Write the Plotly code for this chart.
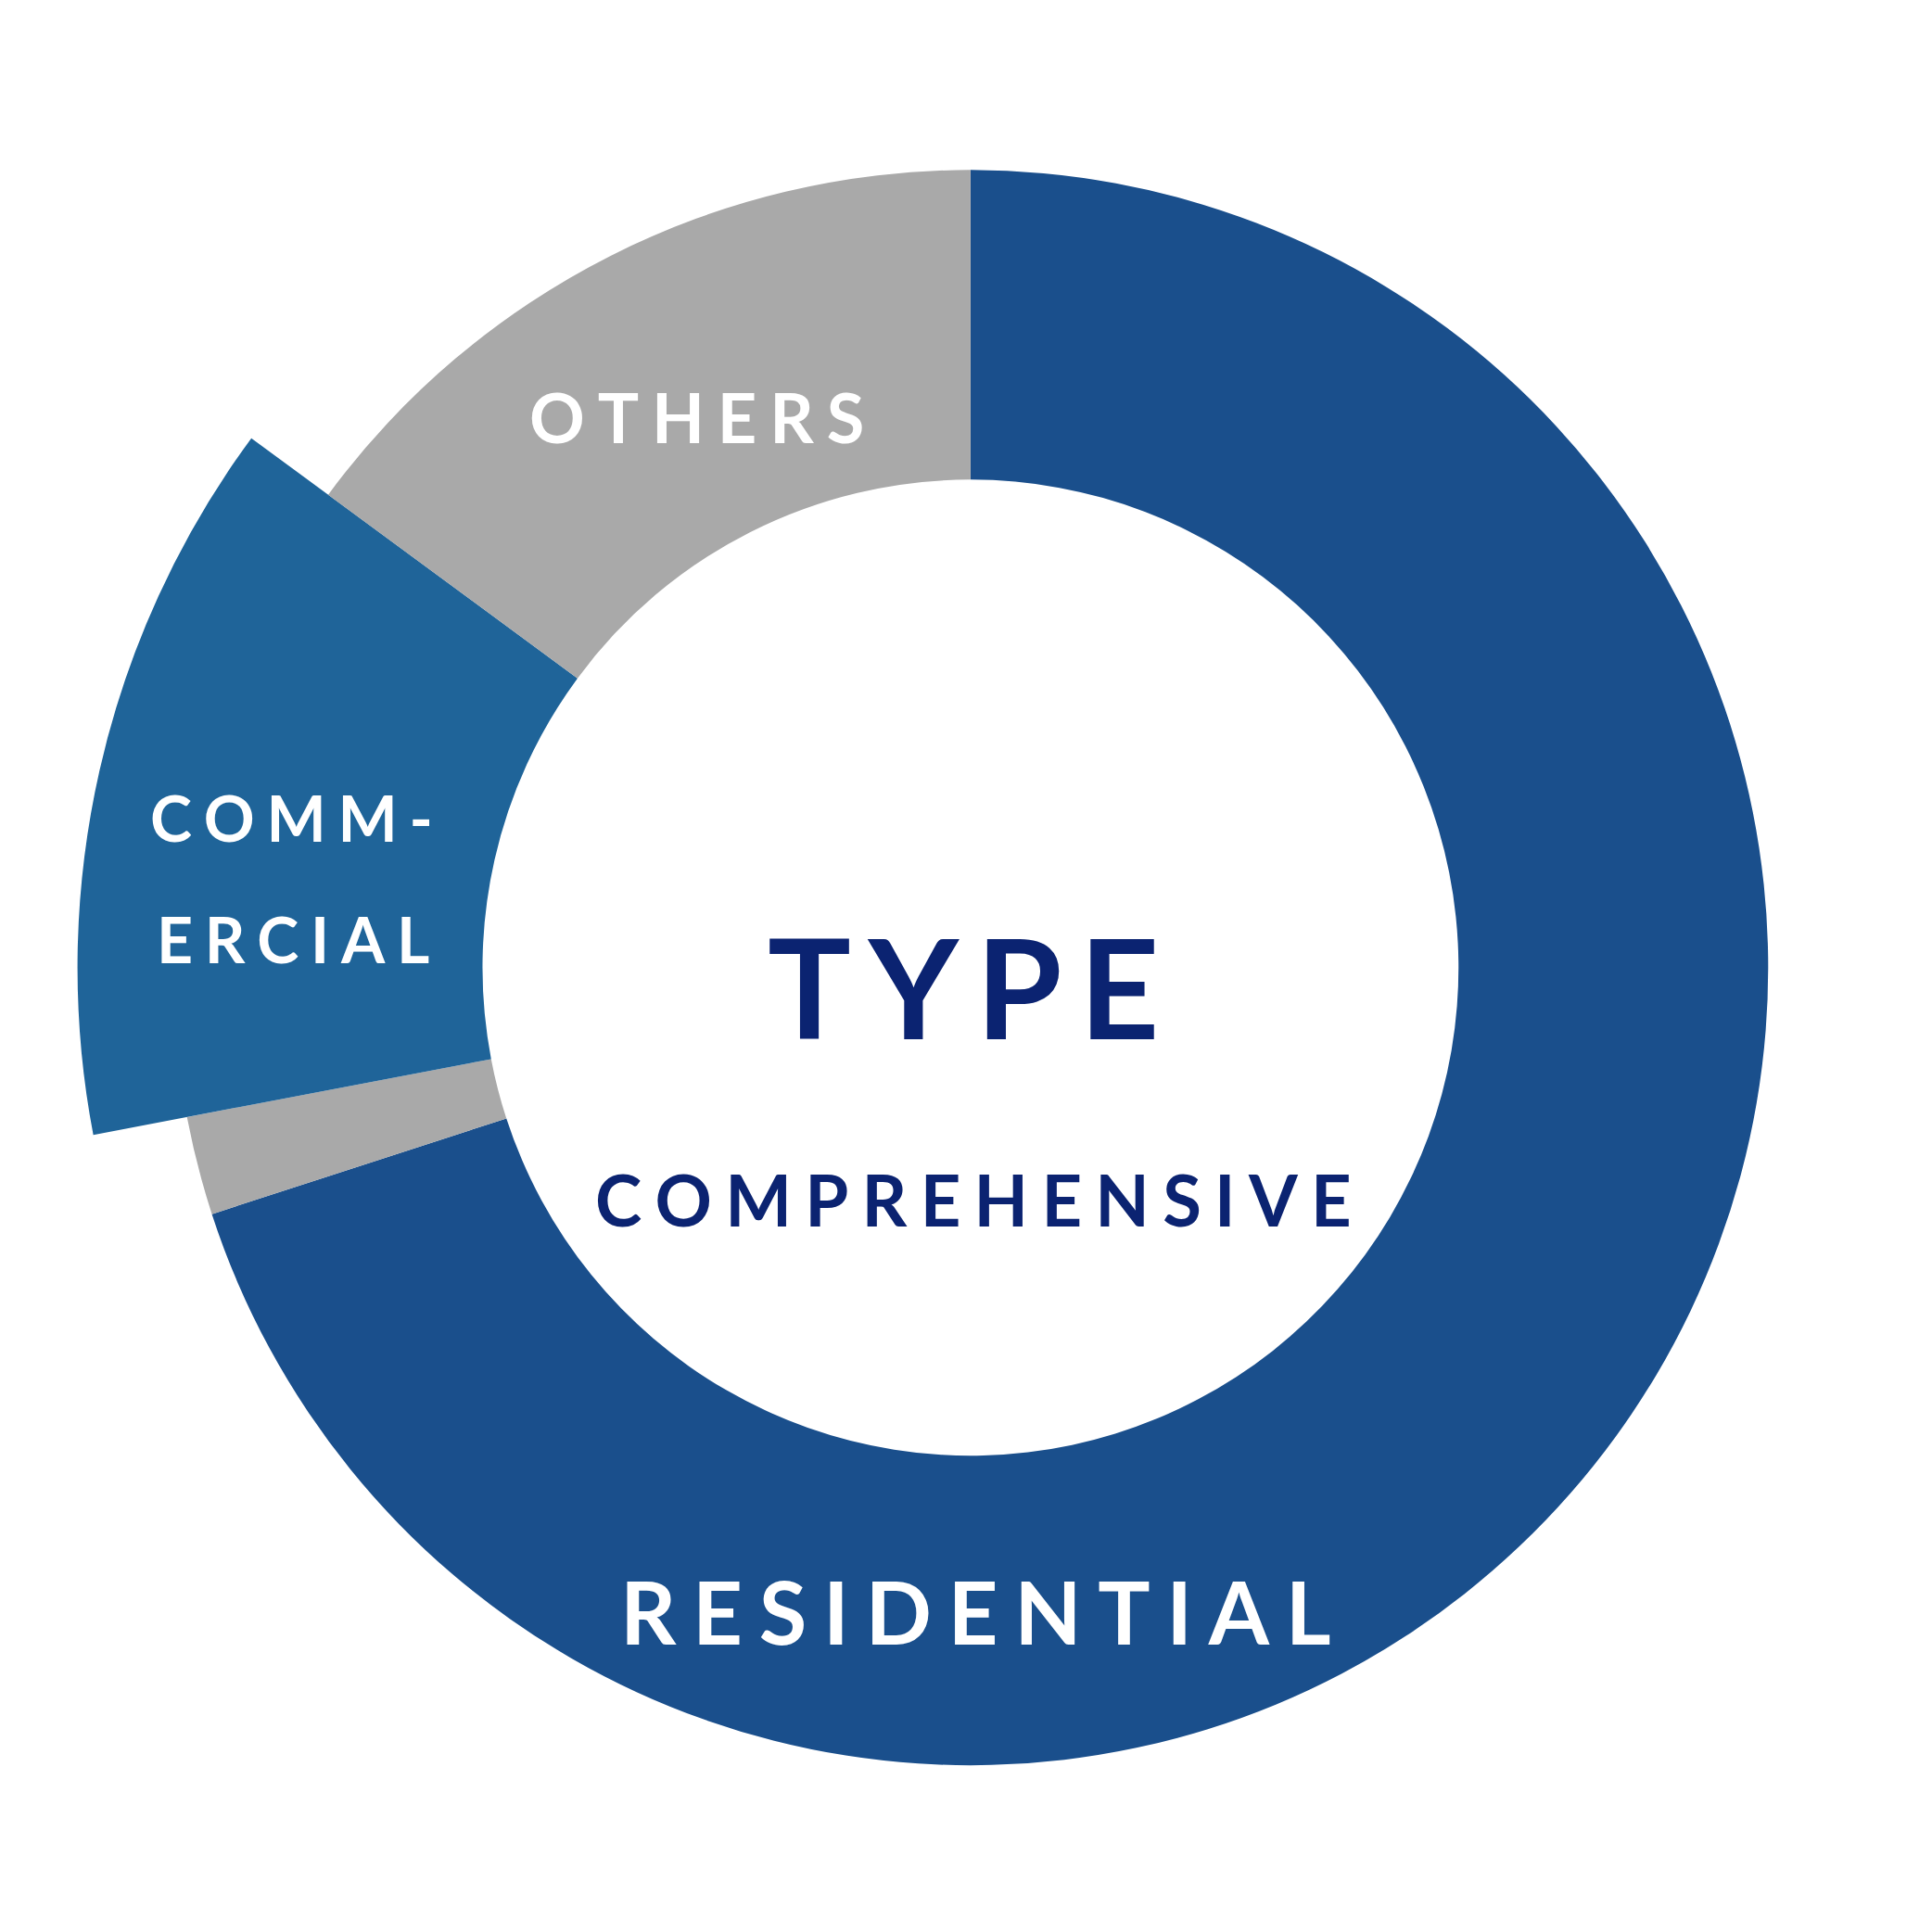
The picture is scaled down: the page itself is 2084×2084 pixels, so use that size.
import numpy as np
import plotly.graph_objects as go

# shares in percent, clockwise from 12 o'clock
categories = ["Residential", "Others (small)", "Commercial", "Others"]
shares = [70, 2, 13.1, 14.9]
colors = ["#1a4f8c", "#a9a9a9", "#1f6499", "#a9a9a9"]
outer = [644, 644, 721, 644]

inner = 394
ends = np.cumsum(shares) * 3.6
starts = ends - np.array(shares) * 3.6
theta = (starts + ends) / 2
width = ends - starts

fig = go.Figure()
fig.add_trace(go.Barpolar(
    theta=theta, width=width, base=[inner] * 4,
    r=[o - inner for o in outer],
    marker=dict(color=colors, line=dict(width=0)),
    hoverinfo="skip",
))

def spaced(s, sep="\u2009"):
    return sep.join(s)

navy = "#0b2371"
font = "Lato"
ann = [
    ("OTHERS", 0.357, 0.788, 74, "white", "\u2009\u200a"),
    ("COMM-", 0.147, 0.581, 68, "white", "\u2009\u200a"),
    ("ERCIAL", 0.148, 0.518, 68, "white", "\u2009\u200a"),
    ("RESIDENTIAL", 0.501, 0.170, 94, "white", "\u2009\u200a"),
    ("COMPREHENSIVE", 0.500, 0.383, 76, navy, "\u2009\u200a"),
    ("TYPE", 0.495, 0.494, 150, navy, "\u2009"),
]
for text, x, y, size, col, sep in ann:
    fig.add_annotation(text="<b>" + spaced(text, sep) + "</b>", x=x, y=y,
                       xref="paper", yref="paper", showarrow=False,
                       xanchor="center", yanchor="middle",
                       font=dict(family=font, size=size, color=col))

fig.update_layout(
    width=2084, height=2084, margin=dict(l=0, r=0, t=0, b=0),
    paper_bgcolor="white", showlegend=False,
    polar=dict(
        domain=dict(x=[0.030, 0.967], y=[0.035, 0.971]),
        bgcolor="white", bargap=0,
        radialaxis=dict(range=[0, 730], visible=False),
        angularaxis=dict(rotation=90, direction="clockwise", visible=False),
    ),
)
fig.write_html("out.html")
